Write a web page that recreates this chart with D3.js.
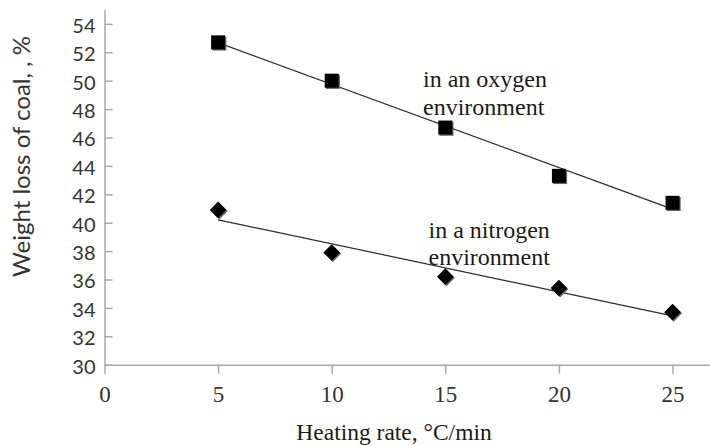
<!DOCTYPE html>
<html>
<head>
<meta charset="utf-8">
<script src="https://cdn.jsdelivr.net/npm/d3@7"></script>
<style>
  body { margin: 0; background: #fff; }
  svg { display: block; }
</style>
</head>
<body>
<svg id="chart" width="710" height="446"></svg>
<script>
// heating rate, °C/min
const heatingRates = [5, 10, 15, 20, 25];
// weight loss of coal, %
const oxygenLoss = [52.7, 50.0, 46.7, 43.3, 41.4];
const nitrogenLoss = [40.9, 37.9, 36.2, 35.4, 33.7];

const xTicks = [0, 5, 10, 15, 20, 25];
const yTicks = [30, 32, 34, 36, 38, 40, 42, 44, 46, 48, 50, 52, 54];

const width = 710;
const height = 446;

const svg = d3.select("#chart");

const x = d3.scaleLinear()
    .domain([0, 26.65])
    .range([104.5, width]);

const y = d3.scaleLinear()
    .domain([30, 55])
    .range([364.7, 9.7]);

// least squares trend line
function trend(xs, ys) {
    const mx = d3.mean(xs), my = d3.mean(ys);
    const slope = d3.sum(xs, (v, i) => (v - mx) * (ys[i] - my)) / d3.sum(xs, v => (v - mx) * (v - mx));
    const b = my - slope * mx;
    const x0 = d3.min(xs), x1 = d3.max(xs);
    return [[x0, b + slope * x0], [x1, b + slope * x1]];
}

// y axis, ticks pointing into the plot
const gy = svg.append("g")
    .attr("transform", `translate(${x(0)},0)`)
    .call(d3.axisLeft(y).tickValues(yTicks).tickSizeInner(-8).tickSizeOuter(0).tickPadding(9));

gy.selectAll("text")
    .attr("font-family", "Lato, sans-serif")
    .attr("font-size", 20)
    .attr("fill", "#333")
    .attr("dy", "0.42em");

// x axis
const gx = svg.append("g")
    .attr("transform", `translate(0,${y(30)})`)
    .call(d3.axisBottom(x).tickValues(xTicks).tickSizeInner(9).tickSizeOuter(0));

gx.selectAll("text")
    .attr("font-family", "'Liberation Serif', serif")
    .attr("font-size", 23)
    .attr("fill", "#333")
    .attr("y", 37)
    .attr("dy", 0);

svg.selectAll(".domain, .tick line")
    .attr("stroke", "#a8a8a8")
    .attr("stroke-width", 1.5);

// trend lines
const line = d3.line()
    .x(d => x(d[0]))
    .y(d => y(d[1]));

[oxygenLoss, nitrogenLoss].forEach(vals => {
    svg.append("path")
        .datum(trend(heatingRates, vals))
        .attr("fill", "none")
        .attr("stroke", "#2a2a2a")
        .attr("stroke-width", 1.2)
        .attr("d", line);
});

// oxygen: squares
const sq = 14;
svg.append("g").selectAll("rect.shadow")
    .data(heatingRates)
    .join("rect")
    .attr("x", d => x(d) - sq / 2 + 1.2)
    .attr("y", (d, i) => y(oxygenLoss[i]) - sq / 2 + 1.2)
    .attr("width", sq)
    .attr("height", sq)
    .attr("fill", "#666");

svg.append("g").selectAll("rect")
    .data(heatingRates)
    .join("rect")
    .attr("x", d => x(d) - sq / 2)
    .attr("y", (d, i) => y(oxygenLoss[i]) - sq / 2)
    .attr("width", sq)
    .attr("height", sq)
    .attr("fill", "#000");

// nitrogen: diamonds
const dm = 8.3;
const diamond = `M0,${-dm}L${dm},0L0,${dm}L${-dm},0Z`;
svg.append("g").selectAll("path")
    .data(heatingRates)
    .join("path")
    .attr("d", diamond)
    .attr("transform", (d, i) => `translate(${x(d) + 1.2},${y(nitrogenLoss[i]) + 1.2})`)
    .attr("fill", "#666");

svg.append("g").selectAll("path")
    .data(heatingRates)
    .join("path")
    .attr("d", diamond)
    .attr("transform", (d, i) => `translate(${x(d)},${y(nitrogenLoss[i])})`)
    .attr("fill", "#000");

// annotations
const notes = [
    { lines: ["in an oxygen", "environment"], x: 423, y: 87 },
    { lines: ["in a nitrogen", "environment"], x: 428.5, y: 237.5 }
];

notes.forEach(n => {
    const t = svg.append("text")
        .attr("font-family", "'Liberation Serif', serif")
        .attr("font-size", 24)
        .attr("fill", "#1a1a1a");
    n.lines.forEach((s, i) => {
        t.append("tspan")
            .attr("x", n.x)
            .attr("y", n.y + i * 27.5)
            .text(s);
    });
});

// axis titles
svg.append("text")
    .attr("transform", "translate(30,156.5) rotate(-90)")
    .attr("text-anchor", "middle")
    .attr("font-family", "Lato, sans-serif")
    .attr("font-size", 24)
    .attr("fill", "#333")
    .text("Weight loss of coal, , %");

svg.append("text")
    .attr("x", 394)
    .attr("y", 440)
    .attr("text-anchor", "middle")
    .attr("font-family", "'Liberation Serif', serif")
    .attr("font-size", 23.5)
    .attr("fill", "#1a1a1a")
    .text("Heating rate, °C/min");
</script>
</body>
</html>
